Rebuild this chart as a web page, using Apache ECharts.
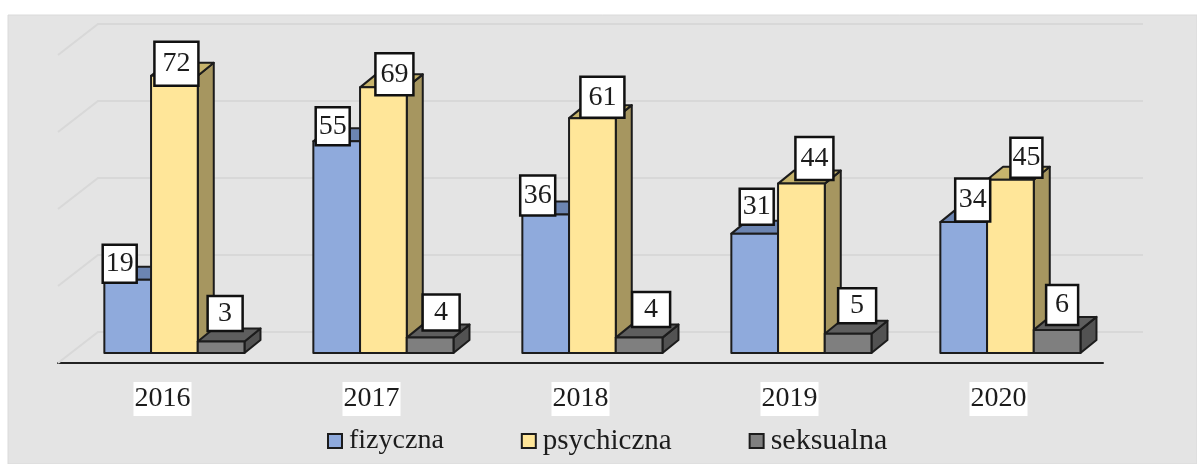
<!DOCTYPE html>
<html>
<head>
<meta charset="utf-8">
<script src="https://cdn.jsdelivr.net/npm/echarts@6/dist/echarts.min.js"></script>
<style>
html,body{margin:0;padding:0;background:#fff;}
#main{width:1197px;height:464px;}
</style>
</head>
<body>
<div id="main"></div>
<script>
var years=['2016','2017','2018','2019','2020'];
var fizyczna=[19,55,36,31,34];
var psychiczna=[72,69,61,44,45];
var seksualna=[3,4,4,5,6];
var gridTicks=[0,20,40,60,80];

// hand placed data labels: [dx from bar centre, dy from bar top, box w, box h]
var labelsFiz=[[-8,-16,34,38],[-4,-15,34,38],[-8,-19,35,40],[2,-27,34,36],[9,-22,35,43]];
var labelsPsy=[[2,-12,44,44],[11,-13,38,42],[10,-21,44,41],[13,-25,38,43],[16,-22,32,40]];
var labelsSek=[[4,-28,35,35],[11,-25,37,36],[12,-28,38,35],[9,-28,38,35],[5,-25,32,40]];

var FONT='"Liberation Serif","Times New Roman",serif';
var INK='#1c1c1c';
var DX=16,DY=13;      // bar depth
var BAR=0.2235;       // bar width, part of the band
var SHIFT=0.057;      // group shifted right of the band centre

function barX(api,i,idx){
    var band=api.size([1,0])[0];
    var c=api.coord([i,0])[0]+band*SHIFT;
    return c+(idx-1.5)*band*BAR;
}

function bar3d(idx,front,top,side){
    return function(params,api){
        var i=api.value(0),v=api.value(1);
        var band=api.size([1,0])[0];
        var w=band*BAR;
        var x0=barX(api,i,idx),x1=x0+w;
        var y1=api.coord([i,0])[1],y0=api.coord([i,v])[1];
        var st=function(c){return {fill:c,stroke:INK,lineWidth:2,lineJoin:'round'};};
        return {type:'group',children:[
            {type:'polygon',shape:{points:[[x1,y0],[x1+DX,y0-DY],[x1+DX,y1-DY],[x1,y1]]},style:st(side)},
            {type:'polygon',shape:{points:[[x0,y0],[x0+DX,y0-DY],[x1+DX,y0-DY],[x1,y0]]},style:st(top)},
            {type:'rect',shape:{x:x0,y:y0,width:w,height:y1-y0},style:st(front)}
        ]};
    };
}

function labelSeries(idx,values,boxes){
    return {
        type:'custom',
        silent:true,
        z:10,
        clip:false,
        data:values.map(function(v,i){return [i,v];}),
        encode:{x:0,y:1},
        renderItem:function(params,api){
            var i=api.value(0),v=api.value(1);
            var b=boxes[i];
            var w=api.size([1,0])[0]*BAR;
            var cx=barX(api,i,idx)+w/2+b[0];
            var cy=api.coord([i,v])[1]+b[1];
            return {type:'group',children:[
                {type:'rect',shape:{x:cx-b[2]/2,y:cy-b[3]/2,width:b[2],height:b[3]},
                    style:{fill:'#fff',stroke:'#111',lineWidth:2.5}},
                {type:'text',style:{x:cx,y:cy,text:String(v),font:'28px '+FONT,fill:INK,align:'center',verticalAlign:'middle'}}
            ]};
        }
    };
}

function barSeries(name,idx,values,front,top,side){
    return {
        name:name,
        type:'custom',
        clip:false,
        z:3,
        itemStyle:{color:front,borderColor:INK,borderWidth:1.5},
        data:values.map(function(v,i){return [i,v];}),
        encode:{x:0,y:1},
        renderItem:bar3d(idx,front,top,side)
    };
}

var wallSeries={
    type:'custom',
    silent:true,
    z:1,
    clip:false,
    data:gridTicks.map(function(t){return [0,t];}),
    encode:{y:1},
    renderItem:function(params,api){
        var y=api.coord([0,api.value(1)])[1];
        var left=params.coordSys.x,right=params.coordSys.x+params.coordSys.width;
        return {type:'polyline',shape:{points:[[left,y+10],[left+40,y-21],[right+40,y-21]]},
            style:{fill:null,stroke:'#d8d8d8',lineWidth:2}};
    }
};

var myChart=echarts.init(document.getElementById('main'),null,{renderer:'canvas'});
var option={
    animation:false,
    backgroundColor:'#fff',
    graphic:[{type:'rect',z:-10,silent:true,shape:{x:8,y:15,width:1189,height:449},
        style:{fill:'#e4e4e4',stroke:'#dadada',lineWidth:1}}],
    grid:{left:58,right:94,top:45,height:308,containLabel:false},
    legend:{
        data:[
            {name:'fizyczna',textStyle:{fontSize:28}},
            {name:'psychiczna',textStyle:{fontSize:29}},
            {name:'seksualna',textStyle:{fontSize:30}}
        ],
        left:327,
        top:426,
        padding:0,
        icon:'rect',
        itemWidth:14,
        itemHeight:14,
        itemGap:77,
        textStyle:{fontFamily:FONT,fontSize:28,color:INK,padding:[0,0,0,2]}
    },
    xAxis:{
        type:'category',
        data:years,
        offset:10,
        axisTick:{show:false},
        axisLine:{onZero:false,lineStyle:{color:'#222',width:2}},
        axisLabel:{
            margin:19,
            fontFamily:FONT,
            fontSize:28,
            color:INK,
            backgroundColor:'#fff',
            lineHeight:34,
            padding:[0,1]
        }
    },
    yAxis:{type:'value',min:0,max:80,interval:20,show:false},
    series:[
        wallSeries,
        barSeries('fizyczna',0,fizyczna,'#8faadc','#6c85b2','#5f7aa8'),
        barSeries('psychiczna',1,psychiczna,'#ffe699','#c7b46c','#a69660'),
        barSeries('seksualna',2,seksualna,'#7f7f7f','#5e5e5e','#525252'),
        labelSeries(0,fizyczna,labelsFiz),
        labelSeries(1,psychiczna,labelsPsy),
        labelSeries(2,seksualna,labelsSek)
    ]
};
myChart.setOption(option);
</script>
</body>
</html>
